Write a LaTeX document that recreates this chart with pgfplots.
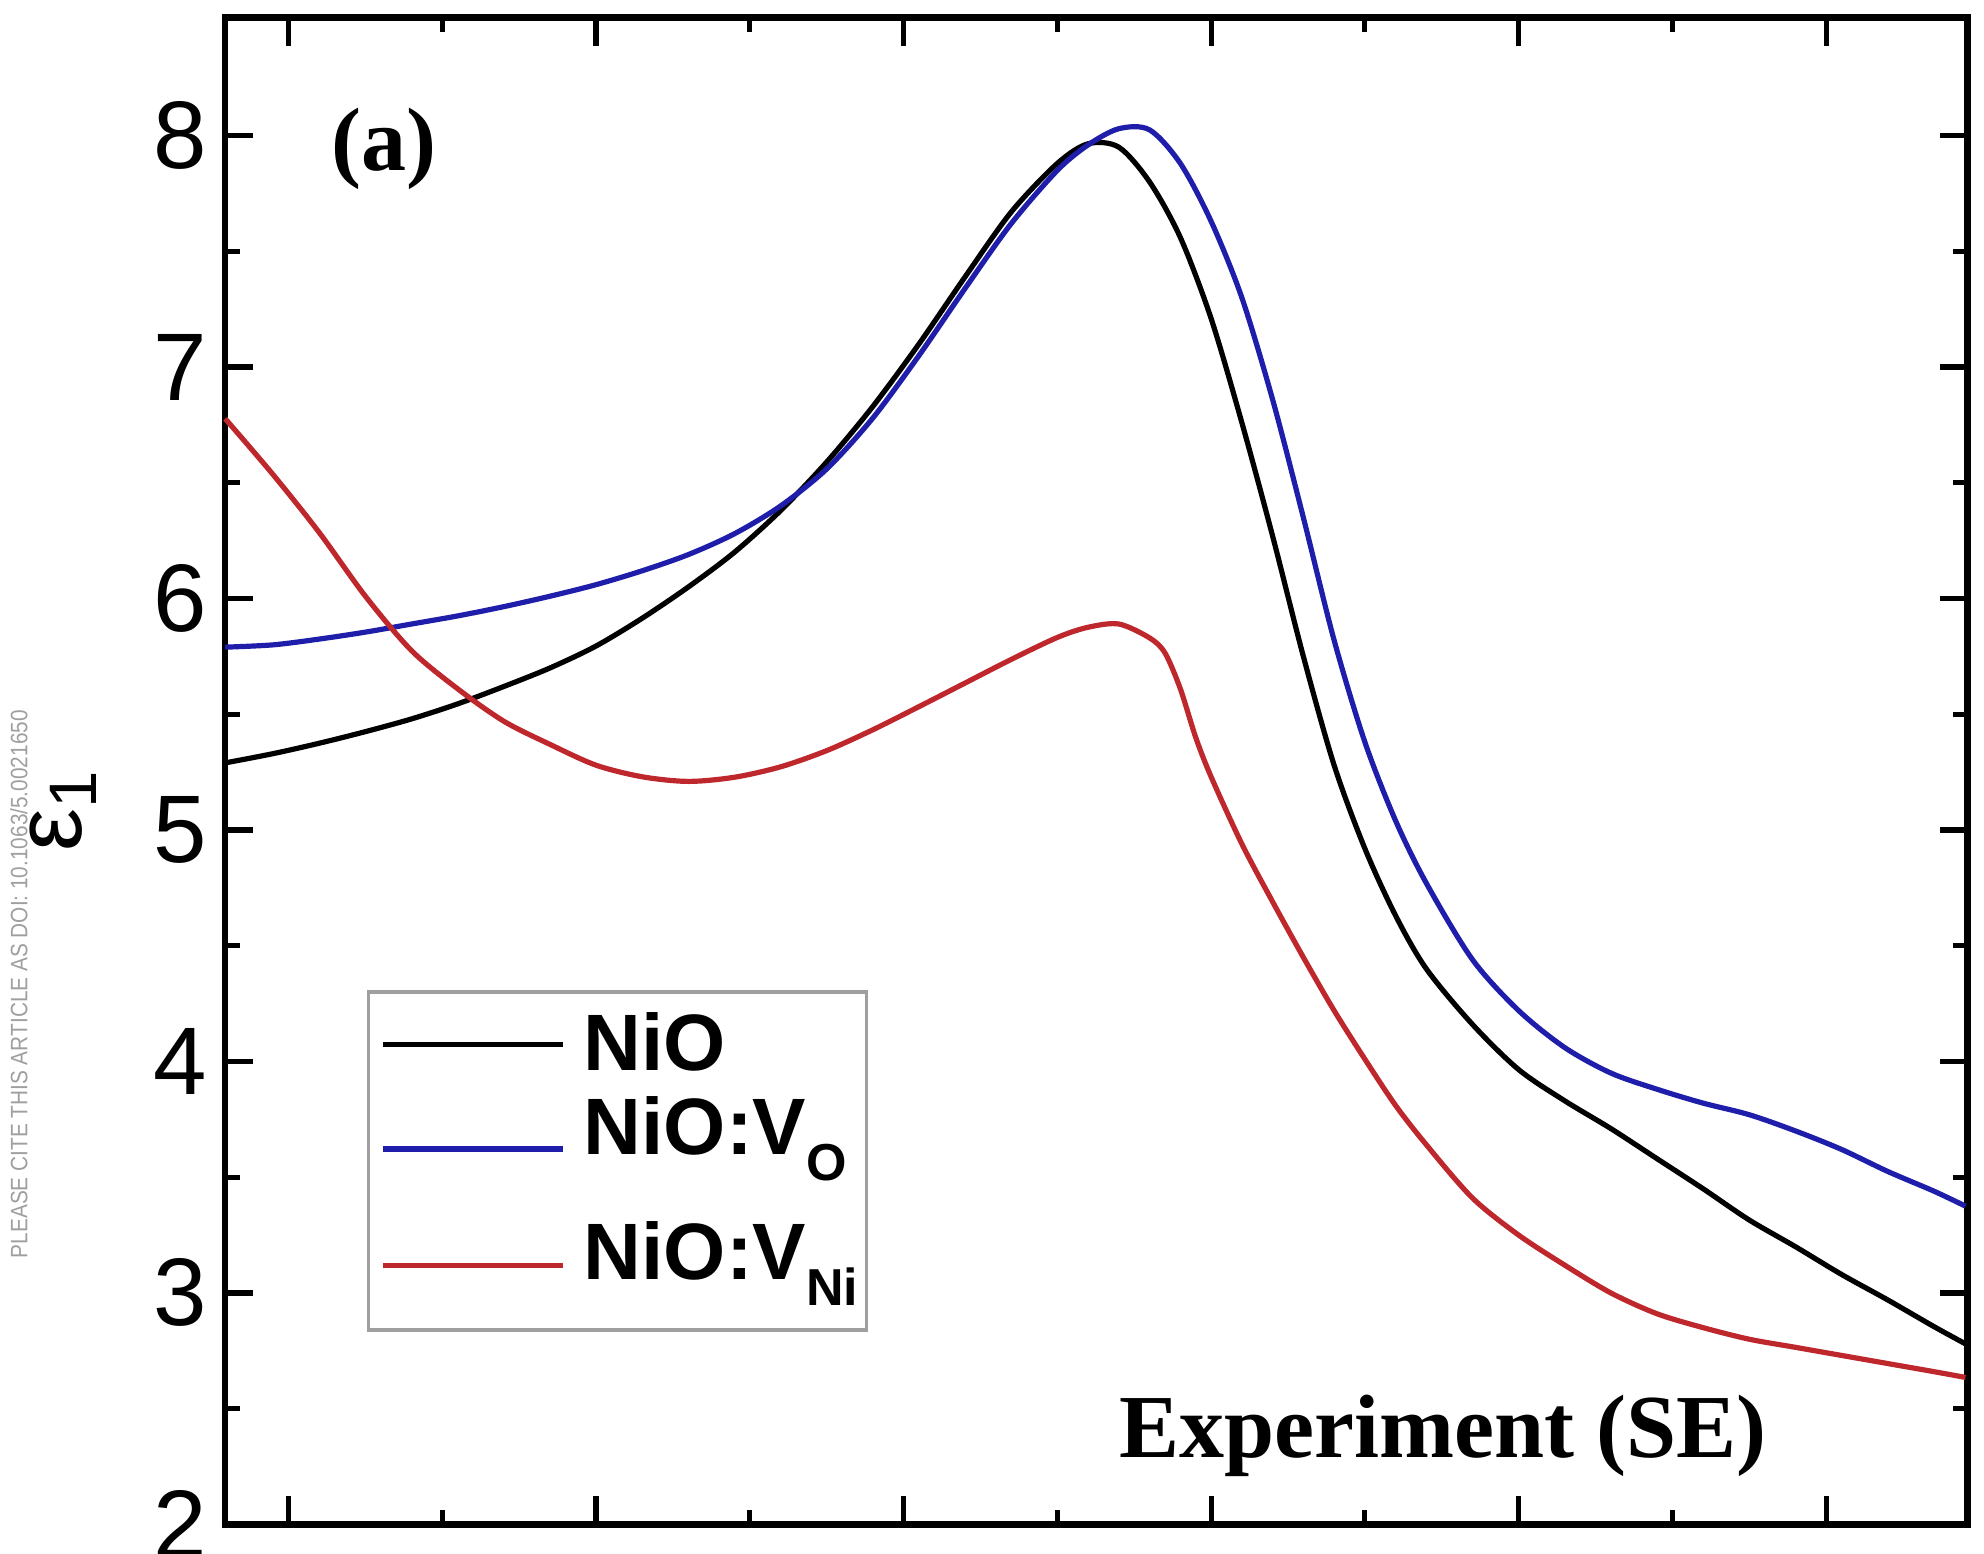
\documentclass[border=0pt]{standalone}
\usepackage{fontspec}
\setmainfont{Liberation Sans}
\newfontfamily\timesfont{Liberation Serif}
\usepackage{pgfplots}
\pgfplotsset{compat=1.18}
\definecolor{voblue}{RGB}{30,30,170}
\definecolor{vnired}{RGB}{190,40,45}
\newcommand{\sub}[1]{\raisebox{-6.5pt}{\fontsize{13}{13}\selectfont #1}}

\begin{document}
\begin{tikzpicture}
\useasboundingbox (-56.3pt,-7.3pt) rectangle (439.7pt,381.1pt);
\begin{axis}[
  width=435.6pt, height=376.7pt, scale only axis,
  xmin=0.794, xmax=6.46, ymin=2, ymax=8.51,
  xtick={1,...,6}, minor x tick num=1, xticklabels={},
  ytick={2,...,8}, minor y tick num=1,
  tick align=inside,
  major tick length=7pt, minor tick length=3.7pt,
  every tick/.style={black, line width=1.3pt},
  axis line style={line width=1.6pt},
  /pgf/number format/assume math mode=true,
  yticklabel style={font=\fontsize{24}{28}\selectfont, xshift=-1pt},
  clip=false,
  legend cell align=left,
  legend style={at={(0.0813,0.128)}, anchor=south west,
    draw=gray!75, line width=0.9pt,
    font=\bfseries\fontsize{20}{24}\selectfont,
    inner xsep=3pt, inner ysep=3pt, row sep=1pt, column sep=2.5pt},
  legend image code/.code={\draw[#1, line width=1.3pt] (0pt,0pt) -- (45pt,0pt);},
]
% NiO
\addplot[black, line width=1.3pt, smooth] coordinates {
(0.794,5.29) (0.95,5.33) (1.1,5.375) (1.25,5.425) (1.4,5.48) (1.55,5.545)
(1.7,5.62) (1.85,5.70) (2.0,5.795) (2.15,5.915) (2.3,6.05) (2.45,6.20)
(2.6,6.38) (2.75,6.59) (2.9,6.83) (3.05,7.10) (3.2,7.39) (3.35,7.67)
(3.5,7.88) (3.6,7.965) (3.7,7.95) (3.8,7.80) (3.9,7.56) (4.0,7.21)
(4.1,6.76) (4.2,6.27) (4.3,5.75) (4.4,5.28) (4.5,4.92) (4.6,4.63)
(4.7,4.40) (4.85,4.16) (5.0,3.965) (5.15,3.83) (5.3,3.71) (5.45,3.58)
(5.6,3.45) (5.75,3.315) (5.9,3.20) (6.05,3.08) (6.2,2.97) (6.35,2.855)
(6.453,2.78)};
\addlegendentry{NiO}
% NiO:V_O
\addplot[voblue, line width=1.3pt, smooth] coordinates {
(0.794,5.79) (0.95,5.80) (1.1,5.825) (1.25,5.855) (1.4,5.89) (1.55,5.925)
(1.7,5.965) (1.85,6.01) (2.0,6.06) (2.15,6.12) (2.3,6.19) (2.45,6.28)
(2.6,6.40) (2.75,6.56) (2.9,6.78) (3.05,7.05) (3.2,7.34) (3.35,7.62)
(3.5,7.85) (3.6,7.96) (3.7,8.03) (3.8,8.025) (3.9,7.88) (4.0,7.63)
(4.1,7.30) (4.2,6.86) (4.3,6.35) (4.4,5.82) (4.5,5.38) (4.6,5.04)
(4.7,4.77) (4.85,4.44) (5.0,4.22) (5.15,4.06) (5.3,3.95) (5.45,3.88)
(5.6,3.82) (5.75,3.77) (5.9,3.70) (6.05,3.62) (6.2,3.525) (6.35,3.44)
(6.453,3.375)};
\addlegendentry[text depth=11.9pt]{NiO:V\sub{O}}
% NiO:V_Ni
\addplot[vnired, line width=1.3pt, smooth] coordinates {
(0.794,6.777) (0.95,6.535) (1.1,6.285) (1.25,6.01) (1.4,5.775) (1.55,5.61)
(1.7,5.47) (1.85,5.37) (2.0,5.28) (2.15,5.23) (2.3,5.21) (2.45,5.228)
(2.6,5.273) (2.75,5.343) (2.9,5.433) (3.05,5.533) (3.2,5.635) (3.35,5.737)
(3.5,5.832) (3.6,5.876) (3.7,5.89) (3.8,5.83) (3.85,5.765) (3.9,5.61)
(3.95,5.40) (4.0,5.23) (4.1,4.94) (4.2,4.69) (4.3,4.45) (4.4,4.22)
(4.5,4.01) (4.6,3.81) (4.7,3.64) (4.85,3.41) (5.0,3.25) (5.15,3.12)
(5.3,3.00) (5.45,2.91) (5.6,2.85) (5.75,2.80) (5.9,2.765) (6.05,2.73)
(6.2,2.695) (6.35,2.66) (6.453,2.635)};
\addlegendentry[text depth=7.5pt]{\makebox[64pt][l]{NiO:V\sub{Ni}}}
\node[font=\timesfont\bfseries\fontsize{22.5}{26}\selectfont] at (rel axis cs:0.091,0.913) {(a)};
\node[font=\timesfont\bfseries\fontsize{22.5}{26}\selectfont] at (rel axis cs:0.699,0.059) {Experiment (SE)};
\node[rotate=90, font=\fontsize{24}{28}\selectfont] at (rel axis cs:-0.093,0.474) {ε\textsubscript{1}};
\node[rotate=90, text=gray!75] at (rel axis cs:-0.1184,0.3585)
  {\resizebox{137pt}{4.3pt}{PLEASE CITE THIS ARTICLE AS DOI: 10.1063/5.0021650}};
\end{axis}
\end{tikzpicture}
\end{document}
